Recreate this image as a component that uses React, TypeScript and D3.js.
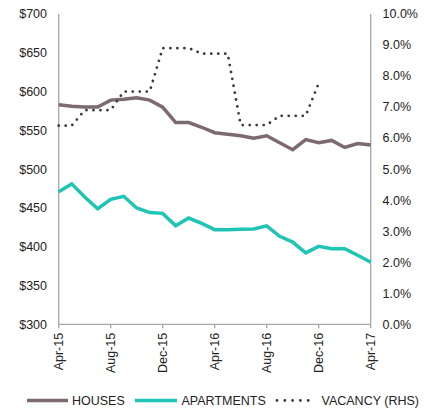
import React from "react";
import * as d3 from "d3";

const months = [
  "Apr-15", "May-15", "Jun-15", "Jul-15", "Aug-15", "Sep-15", "Oct-15", "Nov-15",
  "Dec-15", "Jan-16", "Feb-16", "Mar-16", "Apr-16", "May-16", "Jun-16", "Jul-16",
  "Aug-16", "Sep-16", "Oct-16", "Nov-16", "Dec-16", "Jan-17", "Feb-17", "Mar-17", "Apr-17",
];
const tickMonths = ["Apr-15", "Aug-15", "Dec-15", "Apr-16", "Aug-16", "Dec-16", "Apr-17"];

const houses = [583, 581, 580, 580, 589, 590, 592, 589, 580, 560, 560, 554, 547,
  545, 543, 540, 543, 534, 525, 538, 534, 537, 528, 533, 531];
const apartments = [471, 481, 464, 449, 461, 465, 450, 444, 443, 427, 437, 430, 422,
  422, 422.5, 423, 427, 413.5, 406, 392, 400.5, 397.5, 397.5, 389, 380];
// vacancy series stops at Dec-16
const vacancy = [6.4, 6.4, 6.9, 6.9, 6.9, 7.5, 7.5, 7.5, 8.9, 8.9, 8.9, 8.72, 8.72,
  8.72, 6.42, 6.42, 6.42, 6.72, 6.72, 6.72, 7.77];

const leftTicks = [300, 350, 400, 450, 500, 550, 600, 650, 700];
const rightTicks = [0, 1, 2, 3, 4, 5, 6, 7, 8, 9, 10];

const W = 430, H = 409;
const left = 58.7, right = 370.7, top = 14, bottom = 324.3;
const FONT = "'Liberation Sans', Arial, sans-serif";
const axisColor = "#a6a6a6";

export default function App() {
  const x = d3.scalePoint<string>().domain(months).range([left, right]);
  const y = d3.scaleLinear().domain([300, 700]).range([bottom, top]);
  const yR = d3.scaleLinear().domain([0, 10]).range([bottom, top]);

  const lineL = d3.line<number>().x((_, i) => x(months[i])!).y((d) => y(d));
  const lineR = d3.line<number>().x((_, i) => x(months[i])!).y((d) => yR(d));

  const legendY = 405;

  return (
    <svg width={W} height={H} style={{ position: "absolute", left: 0, top: 0 }} fontFamily={FONT}>
      <rect width={W} height={H} fill="#fff" />
      {/* axes */}
      <line x1={left} x2={left} y1={top} y2={bottom} stroke={axisColor} strokeWidth={1.3} />
      <line x1={right} x2={right} y1={top} y2={bottom} stroke={axisColor} strokeWidth={1.3} />
      <line x1={left} x2={right} y1={bottom} y2={bottom} stroke={axisColor} strokeWidth={1.3} />
      {tickMonths.map((m) => (
        <line key={"t" + m} x1={x(m)} x2={x(m)} y1={bottom} y2={bottom + 4} stroke={axisColor} strokeWidth={1.3} />
      ))}
      {leftTicks.map((t) => (
        <text key={"l" + t} x={47} y={y(t)} dy="0.35em" textAnchor="end" fontSize={12.5} fill="#222">
          {"$" + t}
        </text>
      ))}
      {rightTicks.map((t) => (
        <text key={"r" + t} x={382.5} y={yR(t)} dy="0.35em" textAnchor="start" fontSize={12.5} fill="#222">
          {t.toFixed(1) + "%"}
        </text>
      ))}
      {tickMonths.map((m) => (
        <text key={"x" + m} transform={`translate(${x(m)! + 4.5},${bottom + 8.5}) rotate(-90)`}
          textAnchor="end" fontSize={12.5} fill="#222">
          {m}
        </text>
      ))}
      {/* series */}
      <path d={lineL(houses)!} fill="none" stroke="#7d6a70" strokeWidth={3.5} />
      <path d={lineL(apartments)!} fill="none" stroke="#1ec4b4" strokeWidth={3.5} />
      <path d={lineR(vacancy)!} fill="none" stroke="#3a3a3a" strokeWidth={2.8}
        strokeDasharray="0 7" strokeLinecap="round" />
      {/* legend */}
      <line x1={27} x2={68} y1={legendY - 4.5} y2={legendY - 4.5} stroke="#7d6a70" strokeWidth={3.5} />
      <text x={72} y={legendY} fontSize={12.5} fill="#222">HOUSES</text>
      <line x1={135} x2={177} y1={legendY - 4.5} y2={legendY - 4.5} stroke="#1ec4b4" strokeWidth={3.5} />
      <text x={181.5} y={legendY} fontSize={12.5} fill="#222">APARTMENTS</text>
      <line x1={277} x2={316} y1={legendY - 4.5} y2={legendY - 4.5} stroke="#3a3a3a" strokeWidth={2.8}
        strokeDasharray="0 7.8" strokeLinecap="round" />
      <text x={321.5} y={legendY} fontSize={12.5} fill="#222">VACANCY (RHS)</text>
    </svg>
  );
}
